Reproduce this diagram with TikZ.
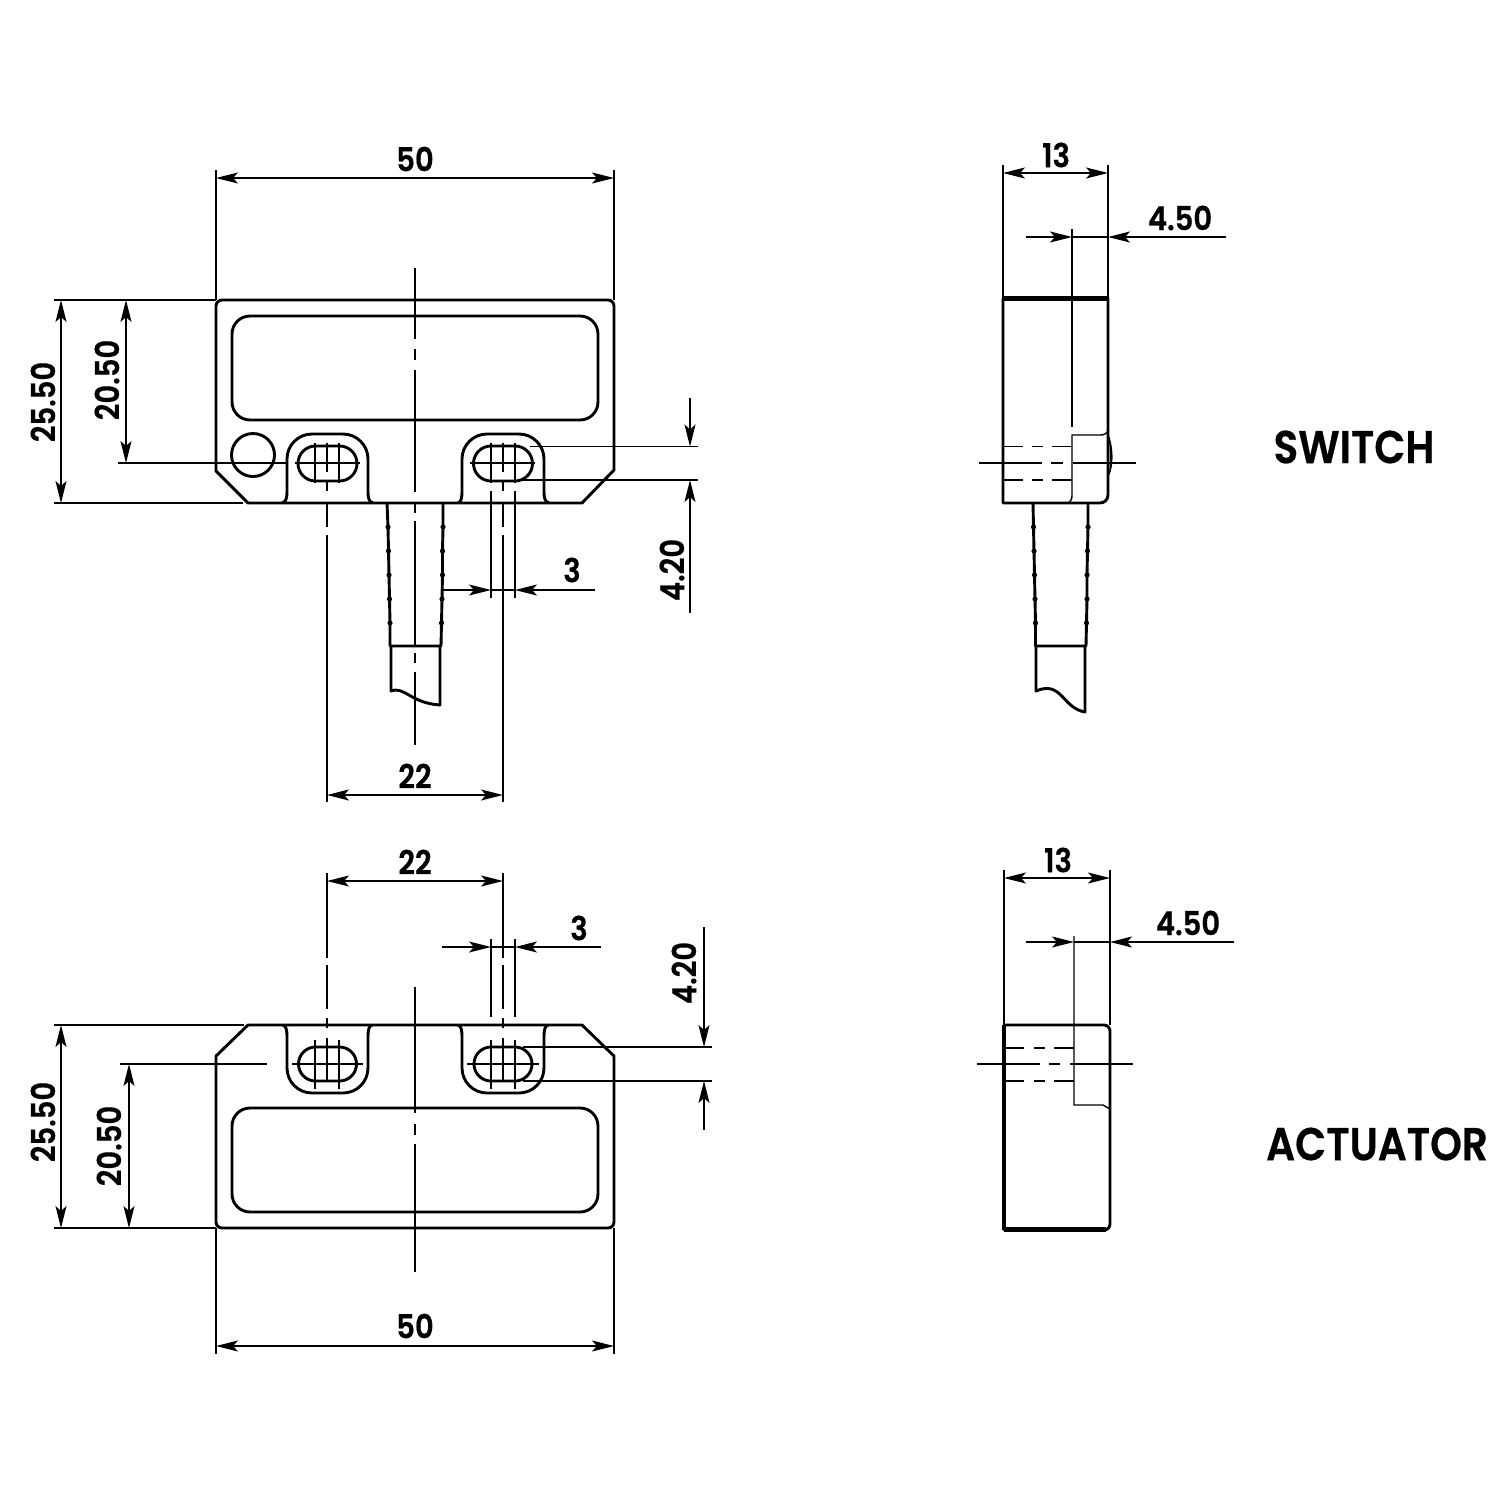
\documentclass[tikz,border=0pt]{standalone}
\usepackage{fontspec}
\setmainfont{Poppins}
\newfontfamily\dimfont[FakeStretch=0.88,FakeBold=0.5]{Poppins SemiBold}
\usetikzlibrary{arrows.meta}
\tikzset{
  outline/.style={line width=1.45pt,line join=round},
  thin line/.style={line width=0.7pt},
  thick edge/.style={line width=2.2pt},
  dimen/.style={line width=0.7pt,{Stealth[length=11pt,width=5.5pt,inset=2.5pt]}-{Stealth[length=11pt,width=5.5pt,inset=2.5pt]}},
  arrowend/.style={line width=0.7pt,-{Stealth[length=11pt,width=5.5pt,inset=2.5pt]}},
  dimlabel/.style={font=\dimfont\fontsize{16.5}{18}\selectfont,inner sep=0pt},
  viewlabel/.style={font=\dimfont\fontsize{23}{26}\selectfont,inner sep=0pt},
}
\begin{document}
\begin{tikzpicture}[x=0.5pt,y=-0.5pt]
\useasboundingbox (0,0) rectangle (1500,1500);
\fill[white] (0,0) rectangle (1500,1500);

% ---------- upper front view ----------
\draw[outline] (216,306) arc[start angle=-180,end angle=-90,radius=6] -- (608,300)
  arc[start angle=-90,end angle=0,radius=6] -- (614,470) -- (582,503) -- (248,503) -- (216,471) -- cycle;
\draw[outline,rounded corners=9pt] (232,316) rectangle (598,420);
\draw[outline] (253,455) circle[radius=21.5];
% bosses
\draw[outline] (282,503) .. controls (286,502) and (287,498) .. (287,492) -- (287,459)
  arc[start angle=-180,end angle=-90,radius=25] -- (343,434) arc[start angle=-90,end angle=0,radius=25]
  -- (368,492) .. controls (368,498) and (369,502) .. (373,503);
\draw[outline] (458,503) .. controls (461,502) and (462,498) .. (462,492) -- (462,459)
  arc[start angle=-180,end angle=-90,radius=25] -- (519,434) arc[start angle=-90,end angle=0,radius=25]
  -- (544,492) .. controls (544,498) and (545,502) .. (549,503);
% slots
\draw[outline] (315.5,446) -- (339.5,446) arc[start angle=-90,end angle=90,radius=17.5] -- (315.5,481) arc[start angle=90,end angle=270,radius=17.5] -- cycle;
\draw[outline] (491,446) -- (515,446) arc[start angle=-90,end angle=90,radius=17.5] -- (491,481) arc[start angle=90,end angle=270,radius=17.5] -- cycle;
% slot marks
\draw[thin line] (295,463) -- (360,463) (315,443) -- (315,483) (339,443) -- (339,483);
\draw[thin line] (470,463) -- (535,463) (491,443) -- (491,483) (515,443) -- (515,483);
% centre lines
\draw[thin line] (327,443) -- (327,472) (327,480) -- (327,491) (327,503) -- (327,527) (327,535) -- (327,802);
\draw[thin line] (503,443) -- (503,472) (503,480) -- (503,491) (503,503) -- (503,527) (503,535) -- (503,802);
\draw[thin line] (491,491) -- (491,598) (515,491) -- (515,598);
\draw[thin line] (415,268) -- (415,339) (415,349) -- (415,360) (415,370) -- (415,492) (415,502) -- (415,513) (415,521) -- (415,646) (415,653) -- (415,663) (415,672) -- (415,745);
% sleeve + cable
\draw[outline] (387,503) -- (388,527) -- (388.5,551) -- (389,575) -- (389.5,599) -- (390,623) -- (390,646) -- (441,646) -- (441.5,623) -- (442,599) -- (442.5,575) -- (442.5,551) -- (443,527) -- (443,503);
\foreach \yy/\xl/\xr in {527/388/443,551/388.5/442.5,575/389/442.5,599/389.5/442,623/390/441.5}{
  \fill (\xl,\yy) circle[radius=2.6];
  \fill (\xr,\yy) circle[radius=2.6];
}
\draw[outline] (391,646) -- (391,691) .. controls (405,686) and (410,703) .. (440,705) -- (440,646);
% extension lines
\draw[thin line] (216,170) -- (216,300) (614,170) -- (614,300);
\draw[thin line] (54,300) -- (216,300) (54,503) -- (243,503) (118,463) -- (287,463);
\draw[thin line] (530,446.5) -- (698,446.5) (523,480) -- (698,480);
\draw[dimen] (216,178) -- (614,178);
\draw[dimen] (61,300) -- (61,503);
\draw[dimen] (126,300) -- (126,463);
\draw[dimen] (327,795) -- (503,795);
\coordinate (u3a) at (443,590); \coordinate (u3b) at (491,590);
\coordinate (u3c) at (595,590); \coordinate (u3d) at (515,590);
\draw[arrowend] (u3a) -- (u3b); \draw[arrowend] (u3c) -- (u3d); \draw[thin line] (u3b) -- (u3d);
\coordinate (u4a) at (690,398); \coordinate (u4b) at (690,446.5);
\coordinate (u4c) at (690,613); \coordinate (u4d) at (690,480);
\draw[arrowend] (u4a) -- (u4b); \draw[arrowend] (u4c) -- (u4d);
\node[dimlabel] (t50a) at (415,159) {50};
\node[dimlabel,rotate=90] (t25a) at (43,402) {25.50};
\node[dimlabel,rotate=90] (t20a) at (107,380) {20.50};
\node[dimlabel] (t3a) at (572,570) {3};
\node[dimlabel,rotate=90] (t42a) at (672,570) {4.20};
\node[dimlabel] (t22a) at (415,776) {22};

% ---------- lower front view ----------
\draw[outline] (248,1025) -- (582,1025) -- (614,1056) -- (614,1222) arc[start angle=0,end angle=90,radius=6]
  -- (222,1228) arc[start angle=90,end angle=180,radius=6] -- (216,1056) -- cycle;
\draw[outline,rounded corners=9pt] (232,1108) rectangle (598,1212);
\draw[outline] (283,1025) .. controls (286,1026) and (287,1030) .. (287,1036) -- (287,1068)
  arc[start angle=180,end angle=90,radius=25] -- (343,1093) arc[start angle=90,end angle=0,radius=25]
  -- (368,1036) .. controls (368,1030) and (369,1026) .. (372,1025);
\draw[outline] (458,1025) .. controls (461,1026) and (462,1030) .. (462,1036) -- (462,1068)
  arc[start angle=180,end angle=90,radius=25] -- (519,1093) arc[start angle=90,end angle=0,radius=25]
  -- (544,1036) .. controls (544,1030) and (545,1026) .. (548,1025);
\draw[outline] (315.5,1047) -- (339.5,1047) arc[start angle=-90,end angle=90,radius=17] -- (315.5,1081) arc[start angle=90,end angle=270,radius=17] -- cycle;
\draw[outline] (491,1047) -- (515,1047) arc[start angle=-90,end angle=90,radius=17] -- (491,1081) arc[start angle=90,end angle=270,radius=17] -- cycle;
\draw[thin line] (292,1064) -- (363,1064) (315,1040) -- (315,1089) (339,1040) -- (339,1089);
\draw[thin line] (467,1064) -- (539,1064) (491,1040) -- (491,1089) (515,1040) -- (515,1089);
\draw[thin line] (327,1038) -- (327,1080) (327,1018) -- (327,1028) (327,965) -- (327,1009) (327,873) -- (327,958);
\draw[thin line] (503,1038) -- (503,1080) (503,1018) -- (503,1028) (503,965) -- (503,1009) (503,873) -- (503,958);
\draw[thin line] (491,939) -- (491,1017) (515,939) -- (515,1017);
\draw[thin line] (415,987) -- (415,1113) (415,1124) -- (415,1135) (415,1144) -- (415,1272);
\draw[thin line] (216,1228) -- (216,1354) (614,1228) -- (614,1354);
\draw[thin line] (54,1025) -- (244,1025) (54,1228) -- (216,1228) (120,1064) -- (267,1064);
\draw[thin line] (523,1047) -- (712,1047) (523,1081) -- (712,1081);
\draw[dimen] (216,1346) -- (614,1346);
\draw[dimen] (61,1025) -- (61,1228);
\draw[dimen] (129,1064) -- (129,1228);
\draw[dimen] (327,881) -- (503,881);
\coordinate (l3a) at (442,947); \coordinate (l3b) at (491,947);
\coordinate (l3c) at (601,947); \coordinate (l3d) at (515,947);
\draw[arrowend] (l3a) -- (l3b); \draw[arrowend] (l3c) -- (l3d); \draw[thin line] (l3b) -- (l3d);
\coordinate (l4a) at (704,927); \coordinate (l4b) at (704,1047);
\coordinate (l4c) at (704,1130); \coordinate (l4d) at (704,1081);
\draw[arrowend] (l4a) -- (l4b); \draw[arrowend] (l4c) -- (l4d);
\node[dimlabel] (t50b) at (415,1326) {50};
\node[dimlabel,rotate=90] (t25b) at (43,1122) {25.50};
\node[dimlabel,rotate=90] (t20b) at (109,1146) {20.50};
\node[dimlabel] (t3b) at (579,928) {3};
\node[dimlabel,rotate=90] (t42b) at (684,973) {4.20};
\node[dimlabel] (t22b) at (415,862) {22};

% ---------- upper side view ----------
\draw[outline] (1003,298) -- (1108,298) -- (1108,495) arc[start angle=0,end angle=90,radius=8] -- (1003,503) -- cycle;
\draw[thick edge] (1003,298.5) -- (1108,298.5);
\draw[thin line] (1072,229) -- (1072,427);
\draw[thin line] (1108,431) .. controls (1106,434) and (1104,435) .. (1100,435) -- (1072,435) -- (1072,495) .. controls (1072,499) and (1071,501) .. (1068,503);
\fill (1108,433) .. controls (1113,445) and (1115,465) .. (1108,478) .. controls (1111,465) and (1110,445) .. (1108,433) -- cycle;
\draw[thin line] (1003,446.5) -- (1023,446.5) (1032,446.5) -- (1043,446.5) (1052,446.5) -- (1072,446.5);
\draw[thin line] (1003,480) -- (1023,480) (1032,480) -- (1043,480) (1052,480) -- (1072,480);
\draw[thin line] (979,463) -- (1042,463) (1051,463) -- (1063,463) (1073,463) -- (1136,463);
\draw[outline] (1033,503) -- (1033.5,527) -- (1034,551) -- (1034.5,575) -- (1035,599) -- (1035.5,623) -- (1035.5,646) -- (1086,646) -- (1086.5,623) -- (1087,599) -- (1087,575) -- (1087.5,551) -- (1088,527) -- (1088,503);
\foreach \yy/\xl/\xr in {527/1033.5/1088,551/1034/1087.5,575/1034.5/1087,599/1035/1087,623/1035.5/1086.5}{
  \fill (\xl,\yy) circle[radius=2.6];
  \fill (\xr,\yy) circle[radius=2.6];
}
\draw[outline] (1036,646) -- (1036,691) .. controls (1062,680) and (1062,708) .. (1085,712) -- (1085,646);
\draw[thin line] (1003,165) -- (1003,298) (1108,165) -- (1108,298);
\draw[dimen] (1003,173) -- (1108,173);
\coordinate (s45a) at (1026,237); \coordinate (s45b) at (1072,237);
\coordinate (s45c) at (1226,237); \coordinate (s45d) at (1108,237);
\draw[arrowend] (s45a) -- (s45b); \draw[arrowend] (s45c) -- (s45d); \draw[thin line] (s45b) -- (s45d);
\node[dimlabel] (t13a) at (1056,155) {13};
\node[dimlabel] (t45a) at (1180,218) {4.50};
\node[viewlabel] (sw) at (1354,447) {SWITCH};

% ---------- lower side view ----------
\draw[outline] (1004,1025) -- (1104,1025) arc[start angle=-90,end angle=0,radius=6] -- (1110,1224) arc[start angle=0,end angle=90,radius=6] -- (1004,1230) -- cycle;
\draw[thick edge] (1004,1229.5) -- (1106,1229.5);
\draw[line width=1.7pt] (1004,1025) -- (1004,1230);
\draw[thin line] (1074,936) -- (1074,1105) -- (1103,1105) -- (1110,1109);
\draw[thin line] (1004,1048) -- (1024,1048) (1034,1048) -- (1045,1048) (1054,1048) -- (1074,1048);
\draw[thin line] (1004,1081) -- (1024,1081) (1034,1081) -- (1045,1081) (1054,1081) -- (1074,1081);
\draw[thin line] (977,1064) -- (1040,1064) (1049,1064) -- (1060,1064) (1070,1064) -- (1133,1064);
\draw[thin line] (1004,870) -- (1004,1025) (1110,870) -- (1110,1025);
\draw[dimen] (1004,878) -- (1110,878);
\coordinate (a45a) at (1026,942); \coordinate (a45b) at (1074,942);
\coordinate (a45c) at (1234,942); \coordinate (a45d) at (1110,942);
\draw[arrowend] (a45a) -- (a45b); \draw[arrowend] (a45c) -- (a45d); \draw[thin line] (a45b) -- (a45d);
\node[dimlabel] (t13b) at (1058,860) {13};
\node[dimlabel] (t45b) at (1188,923) {4.50};
\node[viewlabel] (ac) at (1377,1144) {ACTUATOR};
\end{tikzpicture}
\end{document}
